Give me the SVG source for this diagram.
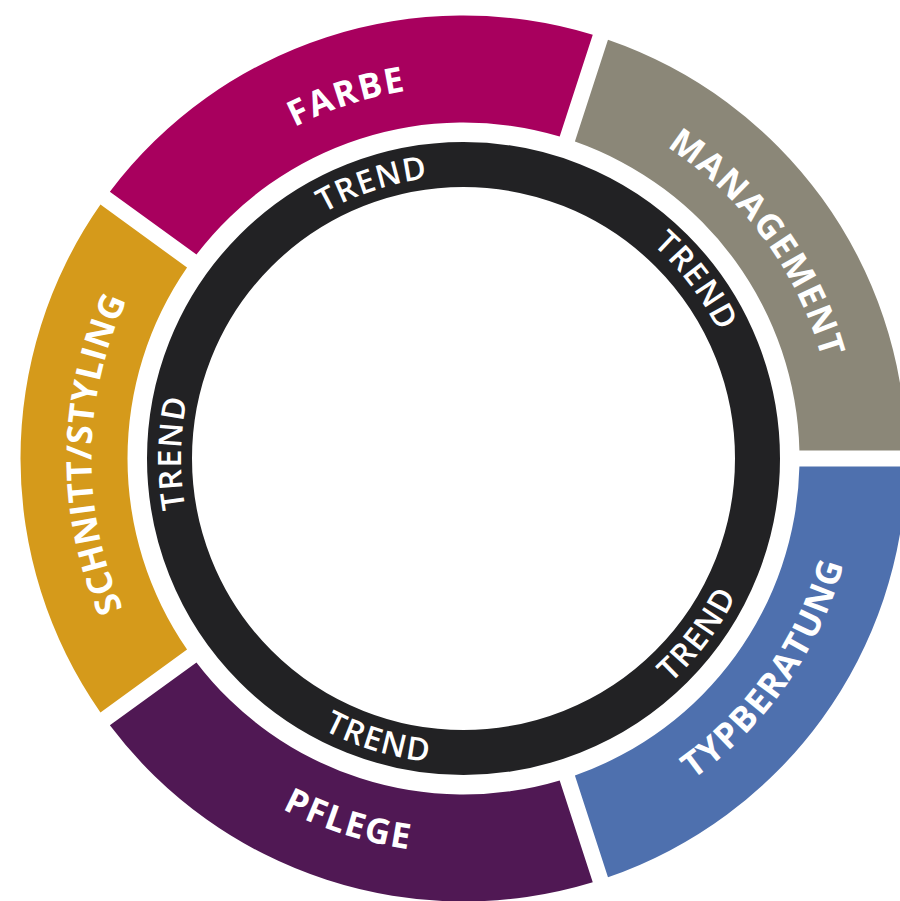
<svg xmlns="http://www.w3.org/2000/svg" width="900" height="901" viewBox="0 0 900 901">
<style>
.lbl{font-family:"Open Sans","Noto Sans","Liberation Sans",sans-serif;font-weight:700;font-size:35px;fill:#ffffff;text-anchor:middle}
.trend{font-family:"Open Sans","Noto Sans","Liberation Sans",sans-serif;font-weight:600;font-size:32px;fill:#ffffff;text-anchor:middle}
</style>
<defs>
<path id="pFarbe" d="M 91.73 445.52 A 372 372 0 0 1 756.64 229.47"/>
<path id="pMgmt" d="M 359.09 101.45 A 372 372 0 0 1 772.99 664.90"/>
<path id="pSchnitt" d="M 332.01 806.49 A 372 372 0 0 1 340.55 107.41"/>
<path id="pTyp" d="M 361.40 839.56 A 394.5 394.5 0 0 0 786.66 232.22"/>
<path id="pPflege" d="M 69.32 474.33 A 394.5 394.5 0 0 0 775.58 699.82"/>
<path id="t1" d="M 181.10 451.06 A 282.5 282.5 0 0 1 684.58 282.61"/>
<path id="t2" d="M 379.02 186.98 A 282.5 282.5 0 0 1 701.49 610.70"/>
<path id="t3" d="M 362.26 722.24 A 282.5 282.5 0 0 1 371.53 191.39"/>
<path id="t4" d="M 374.18 750.64 A 305.5 305.5 0 0 0 719.71 292.11"/>
<path id="t5" d="M 158.42 474.49 A 305.5 305.5 0 0 0 707.48 642.35"/>
</defs>
<rect width="900" height="901" fill="#ffffff"/>
<g id="connectors"/>
<g id="management">
<path d="M 607.98 39.72 A 443 443 0 0 1 906.43 450.5 L 799.41 450.5 A 336 336 0 0 0 574.91 141.51 Z" fill="#8B8778"/>
<text class="lbl"><textPath href="#pMgmt" startOffset="50%" textLength="268" lengthAdjust="spacing">MANAGEMENT</textPath></text>
</g>
<g id="farbe">
<path d="M 109.86 191.68 A 443 443 0 0 1 592.76 34.78 L 559.69 136.56 A 336 336 0 0 0 196.45 254.59 Z" fill="#A8005E"/>
<text class="lbl"><textPath href="#pFarbe" startOffset="50%" textLength="117" lengthAdjust="spacing">FARBE</textPath></text>
</g>
<g id="schnitt-styling">
<path d="M 100.46 712.38 A 443 443 0 0 1 100.46 204.62 L 187.05 267.53 A 336 336 0 0 0 187.05 649.47 Z" fill="#D59A1B"/>
<text class="lbl"><textPath href="#pSchnitt" startOffset="50%" textLength="318" lengthAdjust="spacing">SCHNITT/STYLING</textPath></text>
</g>
<g id="pflege">
<path d="M 592.76 882.22 A 443 443 0 0 1 109.86 725.32 L 196.45 662.41 A 336 336 0 0 0 559.69 780.44 Z" fill="#501854"/>
<text class="lbl"><textPath href="#pPflege" startOffset="50%" textLength="133" lengthAdjust="spacing">PFLEGE</textPath></text>
</g>
<g id="typberatung">
<path d="M 906.43 466.5 A 443 443 0 0 1 607.98 877.28 L 574.91 775.49 A 336 336 0 0 0 799.41 466.5 Z" fill="#4E70AE"/>
<text class="lbl"><textPath href="#pTyp" startOffset="50%" textLength="268" lengthAdjust="spacing">TYPBERATUNG</textPath></text>
</g>
<g id="trend-ring">
<circle cx="463.5" cy="458.5" r="294" fill="none" stroke="#222224" stroke-width="45"/>
<text class="trend"><textPath href="#t1" startOffset="50%" textLength="110" lengthAdjust="spacing">TREND</textPath></text>
<text class="trend"><textPath href="#t2" startOffset="50%" textLength="110" lengthAdjust="spacing">TREND</textPath></text>
<text class="trend"><textPath href="#t3" startOffset="50%" textLength="110" lengthAdjust="spacing">TREND</textPath></text>
<text class="trend"><textPath href="#t4" startOffset="50%" textLength="110" lengthAdjust="spacing">TREND</textPath></text>
<text class="trend"><textPath href="#t5" startOffset="50%" textLength="110" lengthAdjust="spacing">TREND</textPath></text>
</g>
</svg>
